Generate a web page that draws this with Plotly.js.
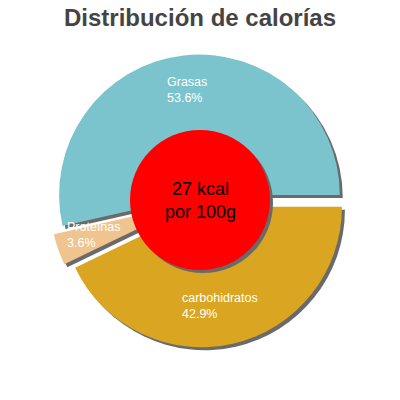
<!DOCTYPE html>
<html>
<head>
<meta charset="utf-8">
<script src="https://cdn.plot.ly/plotly-3.0.1.min.js"></script>
<style>html,body{margin:0;padding:0;background:#fff;}#chart{width:400px;height:400px;}</style>
</head>
<body>
<div id="chart"></div>
<script>
var chartTitle = "Distribución de calorías";
var labels = ["Grasas", "Proteínas", "carbohidratos"];
var values = [53.6, 3.6, 42.9];
var percentText = ["53.6%", "3.6%", "42.9%"];
var colors = ["#7bc4cd", "#efc48f", "#daa520"];
var pulls = [0.036, 0.07, 0.05];
var centerLines = ["27 kcal", "por 100g"];

var shadowColor = "#6a6a6a";
var FONT = "Liberation Sans, Arial, sans-serif";
var ROT = -102.8; // first slice starts at 3 o'clock and runs counterclockwise

var baseDomain = {x: [0.1245, 0.8755], y: [0.1245, 0.8755]};
var sx = 3 / 400, sy = 3 / 400;

var shadow = {
  type: "pie", labels: labels, values: values, sort: false,
  direction: "counterclockwise", rotation: ROT, pull: pulls,
  marker: {colors: labels.map(function(){return shadowColor;}), line: {width: 0}},
  textinfo: "none", hoverinfo: "skip", showlegend: false,
  domain: {x: [baseDomain.x[0] + sx, baseDomain.x[1] + sx], y: [baseDomain.y[0] - sy, baseDomain.y[1] - sy]}
};
var main = {
  type: "pie", labels: labels, values: values, sort: false,
  direction: "counterclockwise", rotation: ROT, pull: pulls,
  marker: {colors: colors, line: {width: 0}},
  textinfo: "none", hoverinfo: "skip", showlegend: false,
  domain: baseDomain
};

// left edge and vertical centre (pixels) of each two-line slice label
var labelPos = [
  {x: 165, y: 90},
  {x: 65, y: 235},
  {x: 180, y: 306}
];
var annotations = [];
labels.forEach(function(lab, i) {
  var p = labelPos[i];
  annotations.push({xref: "paper", yref: "paper", x: p.x / 400, y: 1 - p.y / 400,
    xanchor: "left", yanchor: "middle", align: "left", showarrow: false,
    text: lab + "<br>" + percentText[i],
    font: {family: FONT, size: 12.5, color: "#ffffff"}});
});
annotations.push({xref: "paper", yref: "paper", x: 0.5, y: 0.5, xanchor: "center", yanchor: "middle",
  showarrow: false, text: centerLines.join("<br>"),
  font: {family: FONT, size: 18, color: "#000000"}});

var cx = 200, cy = 200, cr = 70;
var shapes = [
  {type: "circle", xref: "paper", yref: "paper", layer: "above",
   x0: (cx - cr + 3) / 400, x1: (cx + cr + 3) / 400, y0: 1 - (cy + cr + 3) / 400, y1: 1 - (cy - cr + 3) / 400,
   fillcolor: shadowColor, line: {width: 0}},
  {type: "circle", xref: "paper", yref: "paper", layer: "above",
   x0: (cx - cr) / 400, x1: (cx + cr) / 400, y0: 1 - (cy + cr) / 400, y1: 1 - (cy - cr) / 400,
   fillcolor: "#ff0000", line: {width: 0}}
];

var layout = {
  width: 400, height: 400,
  margin: {l: 0, r: 0, t: 0, b: 0},
  paper_bgcolor: "#ffffff",
  showlegend: false,
  title: {text: "<b>" + chartTitle + "</b>", x: 0.5, xanchor: "center", y: 1 - 18 / 400, yanchor: "middle",
    font: {family: FONT, size: 24, color: "#444444"}},
  shapes: shapes,
  annotations: annotations
};

Plotly.newPlot("chart", [shadow, main], layout, {staticPlot: true, displayModeBar: false});
</script>
</body>
</html>
